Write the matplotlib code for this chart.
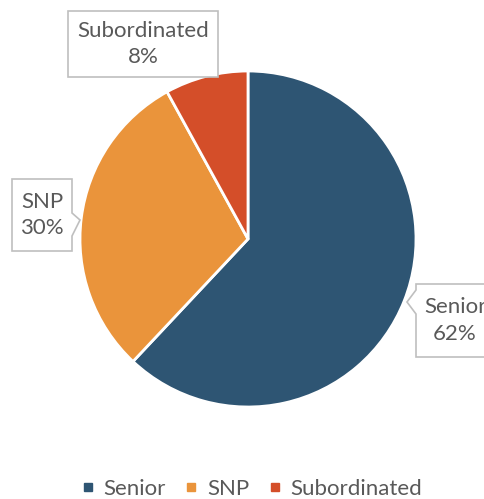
import matplotlib
matplotlib.use("Agg")
import matplotlib.pyplot as plt
from matplotlib.patches import Polygon
from matplotlib.lines import Line2D

# Données
labels = ["Senior", "SNP", "Subordinated"]
shares = [62, 30, 8]
colors = ["#2E5573", "#EA943B", "#D44E29"]

W, H = 485, 499
TEXT_GRAY = "#595959"
BOX_EDGE = "#BFBFBF"
FONT = "Lato"

fig = plt.figure(figsize=(W / 100, H / 100), dpi=100)
ax = fig.add_axes([0, 0, 1, 1])


def img_y(y):
    # coordonnées image (y vers le bas) -> coordonnées axes
    return H - y


# Camembert
wedges, _ = ax.pie(
    shares,
    colors=colors,
    startangle=90,
    counterclock=False,
    center=(248, img_y(239)),
    radius=168,
    wedgeprops=dict(edgecolor="white", linewidth=2),
    frame=True,
)
ax.set_xlim(0, W)
ax.set_ylim(0, H)
ax.set_axis_off()

# Boîtes des étiquettes (x0, y0, x1, y1 en pixels image) et pointe éventuelle
boxes = {
    "Subordinated": dict(box=(68, 11, 218, 77), notch=None),
    "SNP": dict(box=(12, 179, 72, 251), notch=("right", 213, 236, (80, 220))),
    "Senior": dict(box=(416, 284, 500, 357), notch=("left", 290, 314, (407, 302))),
}

for lab, share in zip(labels, shares):
    spec = boxes[lab]
    x0, y0, x1, y1 = spec["box"]
    pts = [(x0, y0), (x1, y0)]
    notch = spec["notch"]
    if notch and notch[0] == "right":
        _, ya, yb, tip = notch
        pts += [(x1, ya), tip, (x1, yb)]
    pts += [(x1, y1), (x0, y1)]
    if notch and notch[0] == "left":
        _, ya, yb, tip = notch
        pts += [(x0, yb), tip, (x0, ya)]
    poly = Polygon([(px, img_y(py)) for px, py in pts], closed=True,
                   facecolor="white", edgecolor=BOX_EDGE, linewidth=1.2, zorder=5)
    ax.add_patch(poly)
    cx = (x0 + min(x1, 494)) / 2
    cy = (y0 + y1) / 2
    ax.text(cx, img_y(cy), f"{lab}\n{share}%", ha="center", va="center",
            family=FONT, fontsize=16, color=TEXT_GRAY, linespacing=1.4, zorder=6)

# Légende
handles = [Line2D([], [], linestyle="none", marker="s", markersize=5.5,
                  markerfacecolor=c, markeredgecolor=c) for c in colors]
leg = fig.legend(handles, labels, loc="center", bbox_to_anchor=(0.521, 1 - 489 / H),
                 ncol=3, frameon=False, handlelength=0.4, handletextpad=0.5,
                 columnspacing=0.95, prop=dict(family=FONT, size=16))
for t in leg.get_texts():
    t.set_color(TEXT_GRAY)

fig.savefig("out.png", dpi=100)
